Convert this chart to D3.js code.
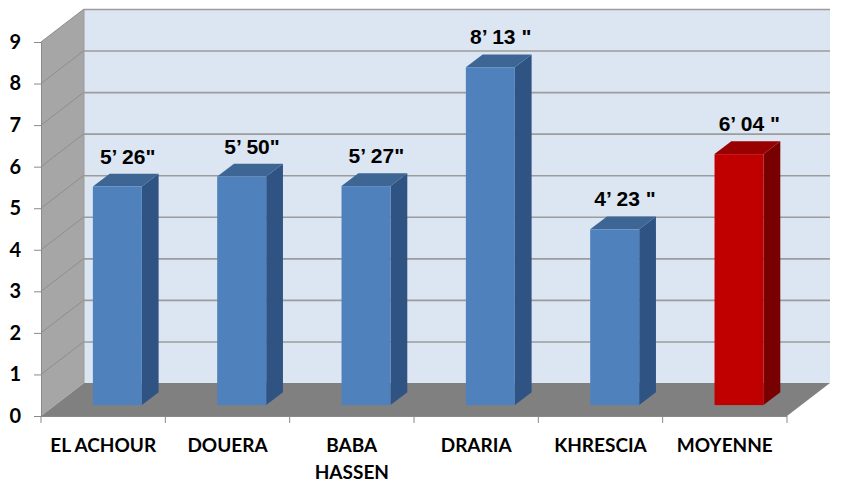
<!DOCTYPE html>
<html><head><meta charset="utf-8">
<script src="https://cdn.jsdelivr.net/npm/d3@7"></script>
<style>body{margin:0;background:#fff}svg{display:block}</style>
</head><body><svg id="c" width="845" height="487"></svg>
<script>
const categories = ["EL ACHOUR","DOUERA","BABA HASSEN","DRARIA","KHRESCIA","MOYENNE"];
const values = [5.26, 5.50, 5.27, 8.13, 4.23, 6.04];
const valueLabels = ["5\u2019 26\"","5\u2019 50\"","5\u2019 27\"","8\u2019 13 \"","4\u2019 23 \"","6\u2019 04 \""];
const highlighted = ["MOYENNE"];
const yTicks = [0,1,2,3,4,5,6,7,8,9];

const svg = d3.select("#c");
const L = 41, R = 787, B = 416, T = 42;
const DX = 43, DY = -33;          // 3D depth offset
const D1 = 0.33, D2 = 0.72;       // bar depth fractions

const x = d3.scaleBand().domain(categories).range([L, R]).paddingInner(0.606).paddingOuter(0.303);
const y = d3.scaleLinear().domain([0, 9]).range([B, T]);
const yMax = y.domain()[1];

const blue = {front:"#4f81bd", top:"#3d6695", side:"#2f5382"};
const red  = {front:"#c00000", top:"#990000", side:"#790000"};

// left wall
svg.append("polygon")
  .attr("points", [[L, y(yMax)], [L+DX, y(yMax)+DY], [L+DX, y(0)+DY], [L, y(0)]].join(" "))
  .attr("fill", "#a6a6a6");
// back wall
svg.append("rect")
  .attr("x", L+DX).attr("y", y(yMax)+DY)
  .attr("width", R-L).attr("height", y(0)-y(yMax))
  .attr("fill", "#dce6f2");
// back wall gridlines
svg.append("g").selectAll("line").data(yTicks.filter(v => v > 0)).join("line")
  .attr("x1", L+DX).attr("x2", R+DX)
  .attr("y1", v => y(v)+DY+0.5).attr("y2", v => y(v)+DY+0.5)
  .attr("stroke", "#9c9c9c").attr("stroke-width", 1.6);
// left wall gridlines
svg.append("g").selectAll("line").data(yTicks.filter(v => v > 0)).join("line")
  .attr("x1", L).attr("y1", v => y(v))
  .attr("x2", L+DX).attr("y2", v => y(v)+DY)
  .attr("stroke", "#8e8e8e").attr("stroke-width", 1);
// left wall / back wall edge
svg.append("line").attr("x1", L+DX).attr("x2", L+DX).attr("y1", y(yMax)+DY).attr("y2", y(0)+DY)
  .attr("stroke", "#9a9a9a").attr("stroke-width", 1);
// floor
svg.append("polygon")
  .attr("points", [[L, y(0)], [L+DX, y(0)+DY], [R+DX, y(0)+DY], [R, y(0)]].join(" "))
  .attr("fill", "#808080");

// bars
const bars = svg.append("g").selectAll("g").data(categories.map((c, i) => ({c, v: values[i], lab: valueLabels[i]}))).join("g");
bars.each(function(d) {
  const g = d3.select(this);
  const col = highlighted.includes(d.c) ? red : blue;
  const x0 = x(d.c), bw = x.bandwidth();
  const fx = x0 + DX*D1, fyT = y(d.v) + DY*D1, fyB = y(0) + DY*D1;
  const bxo = DX*(D2-D1), byo = DY*(D2-D1);
  g.append("polygon")
    .attr("points", [[fx+bw, fyT], [fx+bw+bxo, fyT+byo], [fx+bw+bxo, fyB+byo], [fx+bw, fyB]].join(" "))
    .attr("fill", col.side);
  g.append("polygon")
    .attr("points", [[fx, fyT], [fx+bw, fyT], [fx+bw+bxo, fyT+byo], [fx+bxo, fyT+byo]].join(" "))
    .attr("fill", col.top);
  g.append("rect").attr("x", fx).attr("y", fyT).attr("width", bw).attr("height", fyB-fyT)
    .attr("fill", col.front);
  g.append("text")
    .attr("x", x0 + bw/2 + DX*0.57)
    .attr("y", y(d.v) + DY*D2 - 10)
    .attr("text-anchor", "middle")
    .attr("font-family", "'Liberation Sans', Arial, sans-serif")
    .attr("font-weight", "bold").attr("font-size", 21)
    .attr("fill", "#000")
    .attr("xml:space", "preserve")
    .style("white-space", "pre")
    .text(d.lab);
});

// front vertical axis
const yAxis = d3.axisLeft(y).tickValues(yTicks).tickSize(7).tickPadding(13).tickFormat(d3.format("d"));
const ya = svg.append("g").attr("transform", `translate(${L},0)`).call(yAxis);
ya.select(".domain").attr("stroke", "#8a8a8a");
ya.selectAll(".tick line").attr("stroke", "#8a8a8a");
ya.selectAll(".tick text").attr("font-family", "Lato, sans-serif").attr("font-weight", "bold")
  .attr("font-size", 20).attr("fill", "#000");

// front floor edge + category ticks
svg.append("line").attr("x1", L).attr("x2", R).attr("y1", B+0.5).attr("y2", B+0.5)
  .attr("stroke", "#8a8a8a");
const step = x.step(), off = (x.step() - x.bandwidth())/2;
const bounds = categories.map(c => x(c) - off).concat([R]);
svg.append("g").selectAll("line").data(bounds).join("line")
  .attr("x1", d => d).attr("x2", d => d).attr("y1", B).attr("y2", B+7)
  .attr("stroke", "#8a8a8a");

// category labels
const cl = svg.append("g").selectAll("text").data(categories).join("text")
  .attr("x", d => x(d) + x.bandwidth()/2)
  .attr("y", 452)
  .attr("text-anchor", "middle")
  .attr("font-family", "Lato, sans-serif").attr("font-weight", "bold").attr("font-size", 19)
  .attr("fill", "#000");
cl.each(function(d) {
  const t = d3.select(this);
  t.text(d);
  if (this.getComputedTextLength() > step - 4) {
    const words = d.split(" ");
    t.text(null);
    words.forEach((w, i) => t.append("tspan").attr("x", x(d) + x.bandwidth()/2).attr("dy", i ? 27 : 0).text(w));
  }
});
</script></body></html>
